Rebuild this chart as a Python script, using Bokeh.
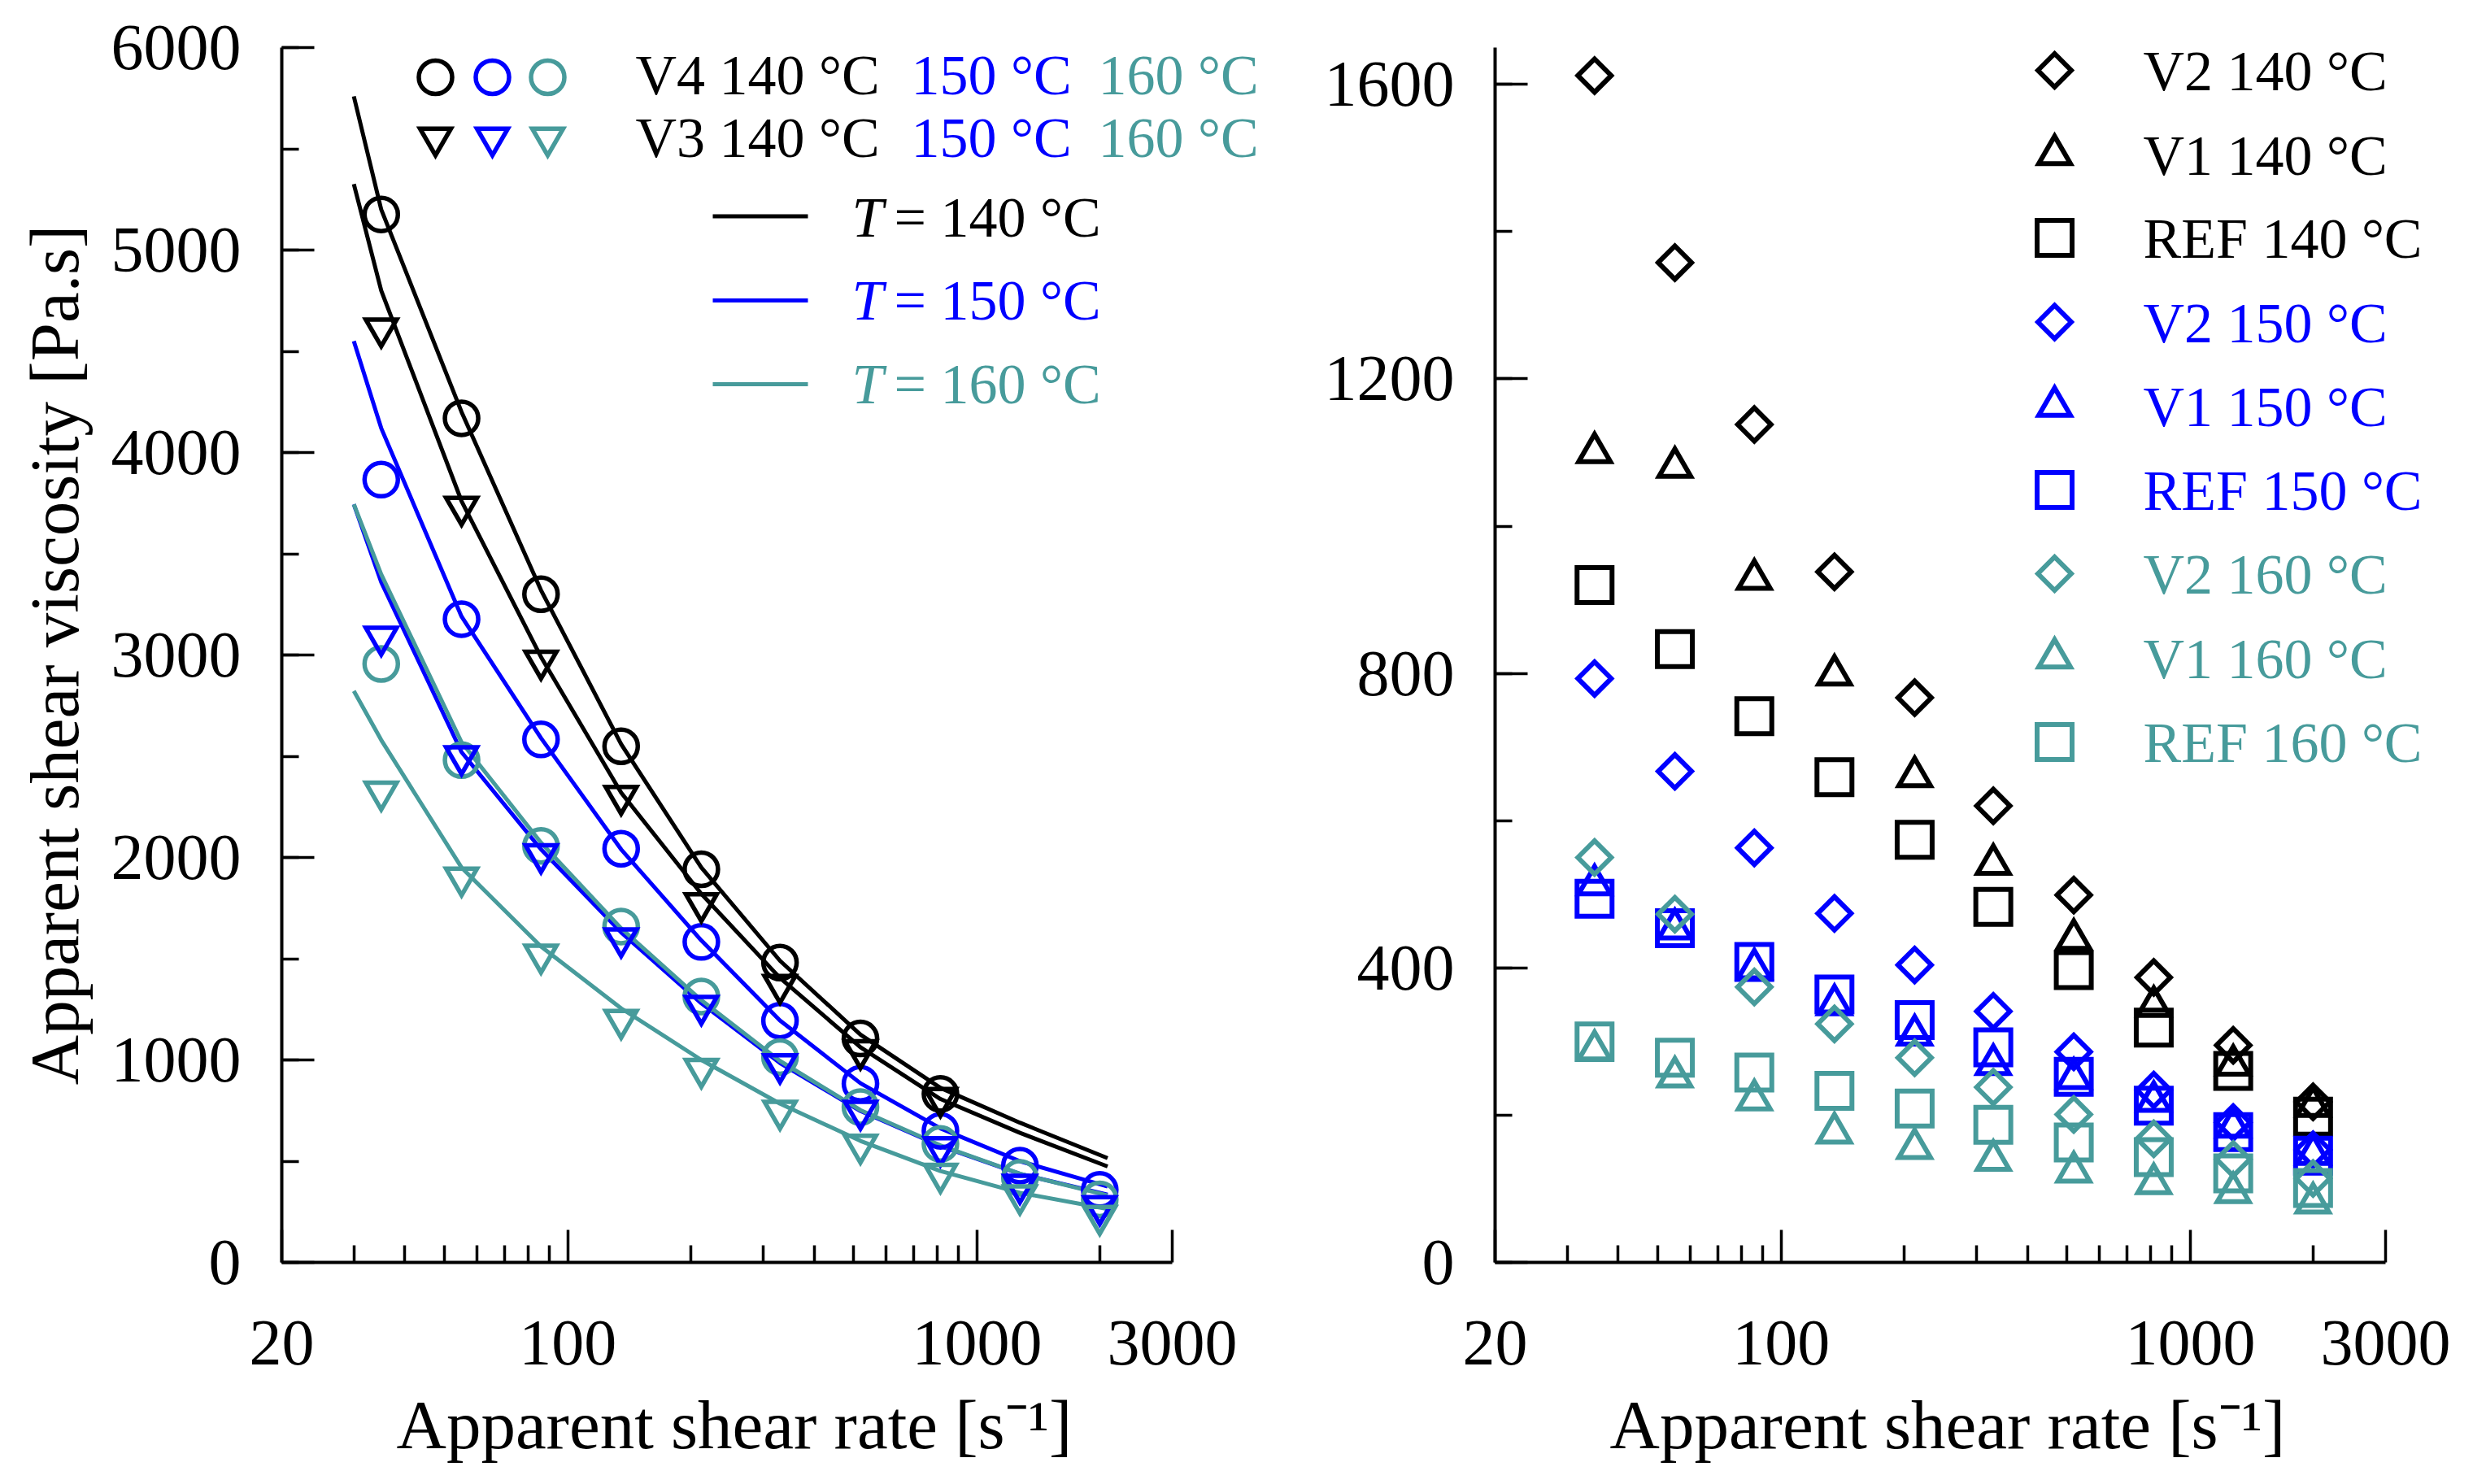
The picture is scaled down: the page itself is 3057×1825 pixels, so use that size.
from bokeh.plotting import figure
from bokeh.layouts import row
from bokeh.models import Label, FixedTicker, SingleIntervalTicker, Range1d, PrintfTickFormatter, Title
from bokeh.embed import file_html
from bokeh.resources import INLINE

FONT = "Liberation Serif"
BLACK = "#000000"
BLUE = "#0000FF"
TEAL = "#479B9B"

# ---------------- data ----------------
shear_rate = [35, 55, 86, 135, 212, 330, 519, 814, 1273, 1995]

# left panel: apparent shear viscosity [Pa.s]
v4_140 = [5176, 4169, 3300, 2549, 1942, 1481, 1106, 832]
v3_140 = [4613, 3732, 2972, 2304, 1774, 1371, 1048, 812]
v4_150 = [3866, 3177, 2583, 2043, 1583, 1194, 883, 650, 478, 358]
v3_150 = [3090, 2500, 2016, 1601, 1267, 979, 749, 569, 384, 278]
v4_160 = [2956, 2481, 2057, 1659, 1313, 1014, 767, 585, 418, 311]
v3_160 = [2325, 1901, 1520, 1198, 956, 749, 581, 438, 331, 230]

# fitted curves
fit_rate = [30, 35, 55, 86, 135, 212, 330, 519, 814, 1273, 2085]
fit_v4_140 = [5759, 5200, 4200, 3320, 2560, 1950, 1490, 1125, 862, 690, 515]
fit_v3_140 = [5326, 4800, 3760, 2990, 2320, 1820, 1405, 1063, 807, 640, 474]
fit_v4_150 = [4550, 4120, 3190, 2590, 2040, 1590, 1195, 885, 662, 500, 375]
fit_v3_150 = [3744, 3360, 2520, 2040, 1630, 1280, 985, 748, 575, 437, 335]
fit_v4_160 = [3744, 3398, 2569, 2073, 1650, 1295, 995, 752, 578, 438, 331]
fit_v3_160 = [2822, 2580, 1950, 1560, 1255, 1000, 784, 600, 451, 344, 264]

# right panel
v2_140 = [1612, 1358, 1138, 938, 767, 620, 499, 387, 295, 218]
v1_140 = [1100, 1080, 928, 798, 660, 541, 439, 348, 268, 212]
ref_140 = [920, 833, 742, 659, 574, 483, 397, 319, 260, 198]
v2_150 = [793, 667, 563, 474, 404, 341, 286, 234, 190, 153]
v1_150 = [513, 453, 399, 350, 309, 269, 250, 219, 184, 147]
ref_150 = [494, 454, 408, 364, 329, 292, 252, 213, 177, 145]
v2_160 = [550, 473, 374, 324, 278, 238, 201, 168, 140, 114]
v1_160 = [288, 252, 221, 176, 155, 139, 123, 107, 95, 81]
ref_160 = [300, 278, 258, 233, 209, 187, 163, 143, 121, 101]

x_major = [20, 100, 1000, 3000]
x_minor = [30, 40, 50, 60, 70, 80, 90, 200, 300, 400, 500, 600, 700, 800, 900, 2000]

# ---------------- layout constants ----------------
H = 1824
TOP = 58
AX_W = 1095          # pixels spanned by 20..3000
FRAME_H = 1494
BOTTOM = TOP + FRAME_H
TICK_PX = "80px"
TITLE_PX = "85px"
LEG_PX = "70px"
X_LO, X_HI = 20, 3000
X_TITLE = "Apparent shear rate [s\u207b\u00b9]"


def px_to_x(px_off):
    return X_LO * (X_HI / X_LO) ** (px_off / AX_W)


def make_fig(width, y_end, left, frame_w):
    p = figure(width=width, height=H, x_axis_type="log",
               x_range=Range1d(X_LO, px_to_x(frame_w)), y_range=Range1d(0, y_end),
               output_backend="svg", toolbar_location=None,
               min_border_left=left, min_border_right=width - left - frame_w,
               min_border_top=TOP, min_border_bottom=H - BOTTOM)
    p.outline_line_color = None
    p.xgrid.visible = False
    p.ygrid.visible = False
    p.xaxis.ticker = FixedTicker(ticks=x_major, minor_ticks=x_minor)
    p.xaxis.formatter = PrintfTickFormatter(format="%d")
    p.xaxis.bounds = (X_LO, X_HI)
    for ax in (p.xaxis[0], p.yaxis[0]):
        ax.axis_line_width = 4
        ax.axis_line_color = BLACK
        ax.major_tick_in = 40
        ax.major_tick_out = 0
        ax.minor_tick_in = 21
        ax.minor_tick_out = 0
        ax.major_tick_line_width = 3.5
        ax.minor_tick_line_width = 3.5
        ax.major_tick_line_color = BLACK
        ax.minor_tick_line_color = BLACK
        ax.major_label_text_font = FONT
        ax.major_label_text_font_size = TICK_PX
        ax.major_label_text_color = BLACK
        ax.axis_label_text_font = FONT
        ax.axis_label_text_font_size = TITLE_PX
        ax.axis_label_text_font_style = "normal"
        ax.axis_label_text_color = BLACK
    p.xaxis.major_label_standoff = 72
    p.yaxis.major_label_standoff = 50
    # x title under the 20..3000 axis span (the frame is wider to hold the legend)
    p.add_layout(Title(text=X_TITLE, align="left", offset=141,
                       text_font=FONT, text_font_size=TITLE_PX, text_font_style="normal",
                       text_color=BLACK, standoff=44), "below")
    return p


# ================= left panel =================
L_LEFT = 346
p1 = make_fig(1560, 6000, L_LEFT, 1206)
p1.yaxis.ticker = SingleIntervalTicker(interval=1000, num_minor_ticks=2)
p1.yaxis.axis_label = "Apparent shear viscosity [Pa.s]"
p1.yaxis.axis_label_standoff = 20

LW = 5
p1.line(fit_rate, fit_v4_140, line_color=BLACK, line_width=LW)
p1.line(fit_rate, fit_v3_140, line_color=BLACK, line_width=LW)
p1.line(fit_rate, fit_v4_150, line_color=BLUE, line_width=LW)
p1.line(fit_rate, fit_v3_150, line_color=BLUE, line_width=LW)
p1.line(fit_rate, fit_v4_160, line_color=TEAL, line_width=LW)
p1.line(fit_rate, fit_v3_160, line_color=TEAL, line_width=LW)

MK = dict(fill_color=None, line_join="miter")
CIRC, INV, MLW = 41, 38, 5.5
for ys, col in ((v4_140, BLACK), (v4_150, BLUE), (v4_160, TEAL)):
    p1.scatter(shear_rate[:len(ys)], ys, marker="circle", size=CIRC, line_color=col, line_width=MLW, **MK)
for ys, col in ((v3_140, BLACK), (v3_150, BLUE), (v3_160, TEAL)):
    p1.scatter(shear_rate[:len(ys)], ys, marker="inverted_triangle", size=INV, line_color=col, line_width=MLW, **MK)


# legend (page pixel positions converted to data space)
def lx(px):
    return px_to_x(px - L_LEFT)


def ly(py):
    return 6000 * (BOTTOM - py) / FRAME_H


leg_cols = [BLACK, BLUE, TEAL]
leg_key_x = [535, 605, 673]
p1.scatter([lx(v) for v in leg_key_x], [ly(94.5)] * 3, marker="circle", size=CIRC,
           line_color=leg_cols, line_width=MLW, **MK)
p1.scatter([lx(v) for v in leg_key_x], [ly(168.6)] * 3, marker="inverted_triangle", size=INV,
           line_color=leg_cols, line_width=MLW, **MK)
for txt_row, mid in (("V4", 92), ("V3", 169)):
    for t, xx, col in ((txt_row + " 140 \u00b0C", 781, BLACK), ("150 \u00b0C", 1120, BLUE), ("160 \u00b0C", 1350, TEAL)):
        p1.add_layout(Label(x=lx(xx), y=ly(mid), text=t, text_font=FONT, text_font_size=LEG_PX,
                            text_color=col, text_baseline="middle", text_align="left"))
for temp, col, yline, mid in (("140", BLACK, 265.6, 267), ("150", BLUE, 369, 368.5), ("160", TEAL, 472, 472.3)):
    p1.line([lx(876), lx(993)], [ly(yline)] * 2, line_color=col, line_width=LW)
    p1.add_layout(Label(x=lx(1047), y=ly(mid), text="T", text_font=FONT, text_font_size=LEG_PX,
                        text_font_style="italic", text_color=col, text_baseline="middle"))
    p1.add_layout(Label(x=lx(1099), y=ly(mid), text="= " + temp + " \u00b0C", text_font=FONT,
                        text_font_size=LEG_PX, text_color=col, text_baseline="middle"))

# ================= right panel =================
R_LEFT = 278
p2 = make_fig(1490, 1650, R_LEFT, 1202)
p2.yaxis.ticker = SingleIntervalTicker(interval=400, num_minor_ticks=2)

SQ, TRI, DIA, RLW = 43, 39, 29, 6
series = [
    (v2_140, "square", DIA, 0.785398, BLACK),
    (v1_140, "triangle", TRI, 0, BLACK),
    (ref_140, "square", SQ, 0, BLACK),
    (v2_150, "square", DIA, 0.785398, BLUE),
    (v1_150, "triangle", TRI, 0, BLUE),
    (ref_150, "square", SQ, 0, BLUE),
    (v2_160, "square", DIA, 0.785398, TEAL),
    (v1_160, "triangle", TRI, 0, TEAL),
    (ref_160, "square", SQ, 0, TEAL),
]
names = ["V2 140 \u00b0C", "V1 140 \u00b0C", "REF 140 \u00b0C",
         "V2 150 \u00b0C", "V1 150 \u00b0C", "REF 150 \u00b0C",
         "V2 160 \u00b0C", "V1 160 \u00b0C", "REF 160 \u00b0C"]

for ys, mk, sz, ang, col in series:
    p2.scatter(shear_rate, ys, marker=mk, size=sz, angle=ang, line_color=col, line_width=RLW, **MK)


def rx(px):
    return px_to_x(px - 1560 - R_LEFT)


def ry(py):
    return 1650 * (BOTTOM - py) / FRAME_H


row_y = [86, 189.5, 292, 395.5, 499, 602, 705, 808.5, 912]
for (ys, mk, sz, ang, col), name, yy in zip(series, names, row_y):
    p2.scatter([rx(2526)], [ry(yy)], marker=mk, size=sz, angle=ang, line_color=col, line_width=RLW, **MK)
    p2.add_layout(Label(x=rx(2635), y=ry(yy + 1), text=name, text_font=FONT, text_font_size=LEG_PX,
                        text_color=col, text_baseline="middle", text_align="left"))

layout = row(p1, p2)
open("out.html", "w").write(file_html(layout, INLINE))
